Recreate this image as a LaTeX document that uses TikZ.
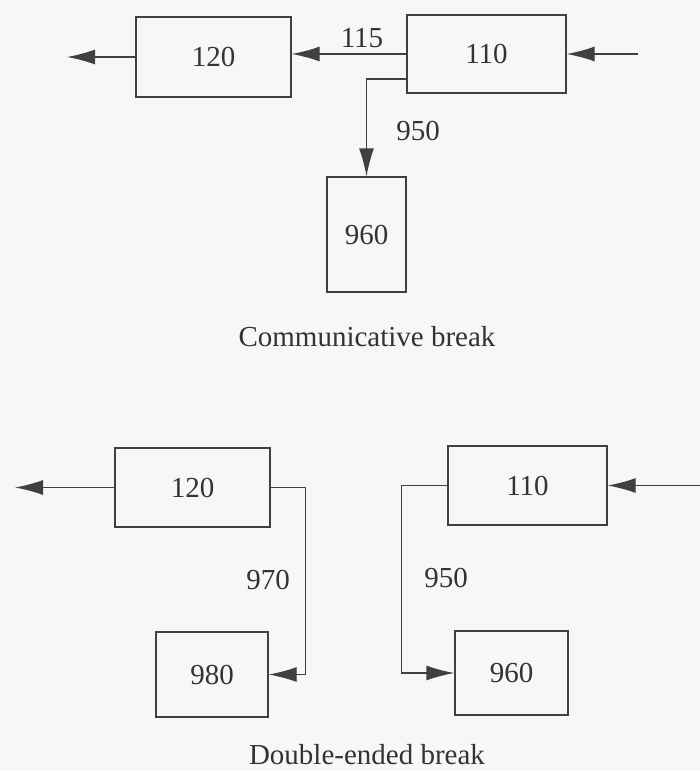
\documentclass[tikz,border=0pt]{standalone}
\usepackage{fontspec}
\setmainfont{Liberation Serif}
\usetikzlibrary{arrows.meta, positioning}

\tikzset{
  blk/.style={draw=black!75, line width=1.3pt, minimum width=#1, inner sep=0pt},
  wire/.style={draw=black!75, line width=1.3pt},
  arr/.style={wire, -{Latex[length=28pt,width=15pt]}},
}

\begin{document}
\begin{tikzpicture}[x=1pt, y=-1pt, font=\fontsize{29}{34}\selectfont, text=black!80]
\useasboundingbox[fill=black!3] (0,0) rectangle (700,771);

% communicative break
\node[blk=155pt, minimum height=80pt] (top120) at (213.5,57) {120};
\node[blk=159pt, minimum height=78pt] (top110) at (486.5,54) {110};
\node[blk=79pt, minimum height=115pt] (top960) at (366.5,234.5) {960};
\coordinate (topin) at (638,54);
\coordinate (topout) at (67,57);
\draw[arr] (topin) -- (top110.east);
\draw[arr] (top110.west) -- (top110.west -| top120.east);
\draw[arr] (top120.west) -- (topout);
\draw[arr] ([yshift=-25pt]top110.west) -| (top960.north);
\node (l115) at (362,38) {115};
\node (l950a) at (418,131) {950};
\node (cap1) at (367,337) {Communicative break};

% double-ended break
\node[blk=155pt, minimum height=79pt] (bot120) at (192.5,487.5) {120};
\node[blk=112pt, minimum height=85pt] (bot980) at (212,674.5) {980};
\node[blk=159pt, minimum height=79pt] (bot110) at (527.5,485.5) {110};
\node[blk=113pt, minimum height=84pt] (bot960) at (511.5,673) {960};
\coordinate (botin) at (700,485.5);
\coordinate (botout) at (15,487.5);
\draw[arr] (bot120.west) -- (botout);
\draw[arr] (bot120.east) -- ++(35,0) |- (bot980.east);
\draw[arr] (botin) -- (bot110.east);
\draw[arr] (bot110.west) -- ++(-46,0) |- (bot960.west);
\node (l970) at (268,580) {970};
\node (l950b) at (446,578) {950};
\node (cap2) at (367,755) {Double-ended break};
\end{tikzpicture}
\end{document}
